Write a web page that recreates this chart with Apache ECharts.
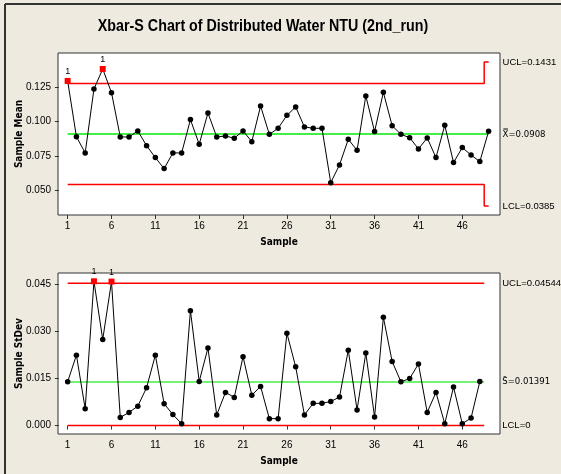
<!DOCTYPE html>
<html><head><meta charset="utf-8">
<script src="https://cdn.jsdelivr.net/npm/echarts@6/dist/echarts.min.js"></script>
<style>html,body{margin:0;padding:0;background:#EEEAE0;}#c{width:561px;height:474px;}</style>
</head><body><div id="c"></div>
<script>
const titleText = 'Xbar-S Chart of Distributed Water NTU (2nd_run)';
const meanValues = [0.1294,0.0889,0.0771,0.1235,0.1381,0.1209,0.0887,0.0887,0.0931,0.0824,
  0.0737,0.0657,0.0771,0.0771,0.1013,0.0834,0.1061,0.0887,0.0894,0.0878,
  0.0931,0.0853,0.1112,0.0906,0.0950,0.1044,0.1105,0.0960,0.0950,0.0950,
  0.0555,0.0684,0.0870,0.0790,0.1185,0.0926,0.1211,0.0969,0.0906,0.0882,
  0.0800,0.0880,0.0737,0.0972,0.0701,0.0810,0.0756,0.0708,0.0928];
const stdevValues = [0.0140,0.0225,0.0054,0.0461,0.0275,0.0460,0.0026,0.0042,0.0062,0.0121,
  0.0225,0.0070,0.0035,0.0006,0.0367,0.0141,0.0248,0.0034,0.0106,0.0090,
  0.0220,0.0097,0.0125,0.0022,0.0022,0.0295,0.0188,0.0034,0.0071,0.0071,
  0.0077,0.0091,0.0241,0.0050,0.0232,0.0027,0.0346,0.0205,0.0140,0.0150,
  0.0197,0.0042,0.0106,0.0006,0.0123,0.0006,0.0024,0.0141];
const xTicks = [1,6,11,16,21,26,31,36,41,46];
const meanTicks = [0.050,0.075,0.100,0.125];
const stdevTicks = [0.000,0.015,0.030,0.045];
// control limits
const xbarCenter = 0.0908;
const xbarUCL = 0.1275, xbarLCL = 0.0541;      // for regular subgroups
const xbarUCLLast = 0.1431, xbarLCLLast = 0.0385; // last subgroup
const sCenter = 0.01391, sUCL = 0.04544, sLCL = 0;

const FONT = 'Liberation Sans, Arial';
const BOLDFONT = 'DejaVu Sans Condensed, DejaVu Sans';
const chart = echarts.init(document.getElementById('c'), null, {renderer:'canvas'});

const nMean = meanValues.length;
const stageEnd = nMean - 0.5;

function pts(vals, ucl, lcl){
  return vals.map((v,i)=>{
    const out = v > ucl || v < lcl;
    if(!out) return [i+1, v];
    return {value:[i+1,v], symbol:'rect', symbolSize:6, itemStyle:{color:'#ff0000'},
      label:{show:true, formatter:'1', position:'top', distance:2, fontSize:9, color:'#000', fontFamily:FONT}};
  });
}
const lblStyle = {fontSize:9.5, color:'#000'};
function limitSeries(xi, yi, data, color, width, label, dist){
  const comb = label && (label.indexOf('\u033F')>=0 || label.indexOf('\u0304')>=0);
  return {type:'line', xAxisIndex:xi, yAxisIndex:yi, data:data, symbol:'none', silent:true,
    lineStyle:{color:color, width:width}, z:1, animation:false,
    endLabel:{show:!!label, formatter:label, distance:dist, ...lblStyle,
      fontFamily: comb ? 'DejaVu Sans Condensed, DejaVu Sans' : FONT}};
}
const xAxisBase = (gi)=>({type:'value', gridIndex:gi, min:-0.1, max:50.3,
  name:'Sample', nameLocation:'middle', nameGap:22, nameMoveOverlap:false,
  nameTextStyle:{fontFamily:BOLDFONT, fontWeight:'bold', fontSize:10, color:'#000'},
  axisLine:{show:false}, splitLine:{show:false},
  axisTick:{show:true, inside:false, length:4, customValues:xTicks, lineStyle:{color:'#333'}},
  axisLabel:{customValues:xTicks, fontFamily:FONT, fontSize:10, color:'#000', margin:6}});
const yAxisBase = (gi, mn, mx, ticks, dec, name)=>({type:'value', gridIndex:gi, min:mn, max:mx,
  name:name, nameLocation:'middle', nameGap:34, nameRotate:90, nameMoveOverlap:false,
  nameTextStyle:{fontFamily:BOLDFONT, fontWeight:'bold', fontSize:10, color:'#000'},
  axisLine:{show:false}, splitLine:{show:false},
  axisTick:{show:true, inside:false, length:4, customValues:ticks, lineStyle:{color:'#333'}},
  axisLabel:{customValues:ticks, formatter:v=>v.toFixed(dec), fontFamily:FONT, fontSize:10, color:'#000', margin:7}});

const option = {
  backgroundColor:'#EEEAE0',
  animation:false,
  graphic:[
    {type:'line', shape:{x1:5, y1:4, x2:561, y2:4}, style:{stroke:'#333', lineWidth:2}},
    {type:'line', shape:{x1:5, y1:4, x2:5, y2:474}, style:{stroke:'#333', lineWidth:2}},
    {type:'text', x:263, y:26, scaleX:0.84, style:{text:titleText, fill:'#000',
      font:'bold 17px "Liberation Sans", Arial', textAlign:'center', textVerticalAlign:'middle'}}
  ],
  grid:[
    {left:58, top:53, width:442, height:162, show:true, backgroundColor:'#fff', borderColor:'#333', borderWidth:1, outerBoundsMode:'none', containLabel:false},
    {left:58, top:273, width:442, height:161, show:true, backgroundColor:'#fff', borderColor:'#333', borderWidth:1, outerBoundsMode:'none', containLabel:false}
  ],
  xAxis:[xAxisBase(0), xAxisBase(1)],
  yAxis:[yAxisBase(0, 0.032, 0.1497, meanTicks, 3, 'Sample Mean'),
         yAxisBase(1, -0.0027, 0.04875, stdevTicks, 3, 'Sample StDev')],
  series:[
    limitSeries(0,0,[[1,xbarUCL],[stageEnd,xbarUCL],[stageEnd,xbarUCLLast],[nMean,xbarUCLLast]],'#ff0000',1.5,'UCL=0.1431',14),
    limitSeries(0,0,[[1,xbarLCL],[stageEnd,xbarLCL],[stageEnd,xbarLCLLast],[nMean,xbarLCLLast]],'#ff0000',1.5,'LCL=0.0385',14),
    limitSeries(0,0,[[1,xbarCenter],[nMean,xbarCenter]],'#44ee44',2,'X\u033F=0.0908',14),
    {type:'line', xAxisIndex:0, yAxisIndex:0, data:pts(meanValues, xbarUCL, xbarLCL), symbol:'circle', symbolSize:5.5,
      itemStyle:{color:'#000'}, lineStyle:{color:'#000', width:1}, z:3},
    limitSeries(1,1,[[1,sUCL],[stageEnd,sUCL]],'#ff0000',1.5,'UCL=0.04544',18),
    limitSeries(1,1,[[1,sLCL],[stageEnd,sLCL]],'#ff0000',1.5,'LCL=0',18),
    limitSeries(1,1,[[1,sCenter],[stageEnd,sCenter]],'#44ee44',1.5,'S\u0304=0.01391',18),
    {type:'line', xAxisIndex:1, yAxisIndex:1, data:pts(stdevValues, sUCL, -1), symbol:'circle', symbolSize:5.5,
      itemStyle:{color:'#000'}, lineStyle:{color:'#000', width:1}, z:3}
  ]
};
chart.setOption(option);
</script></body></html>
